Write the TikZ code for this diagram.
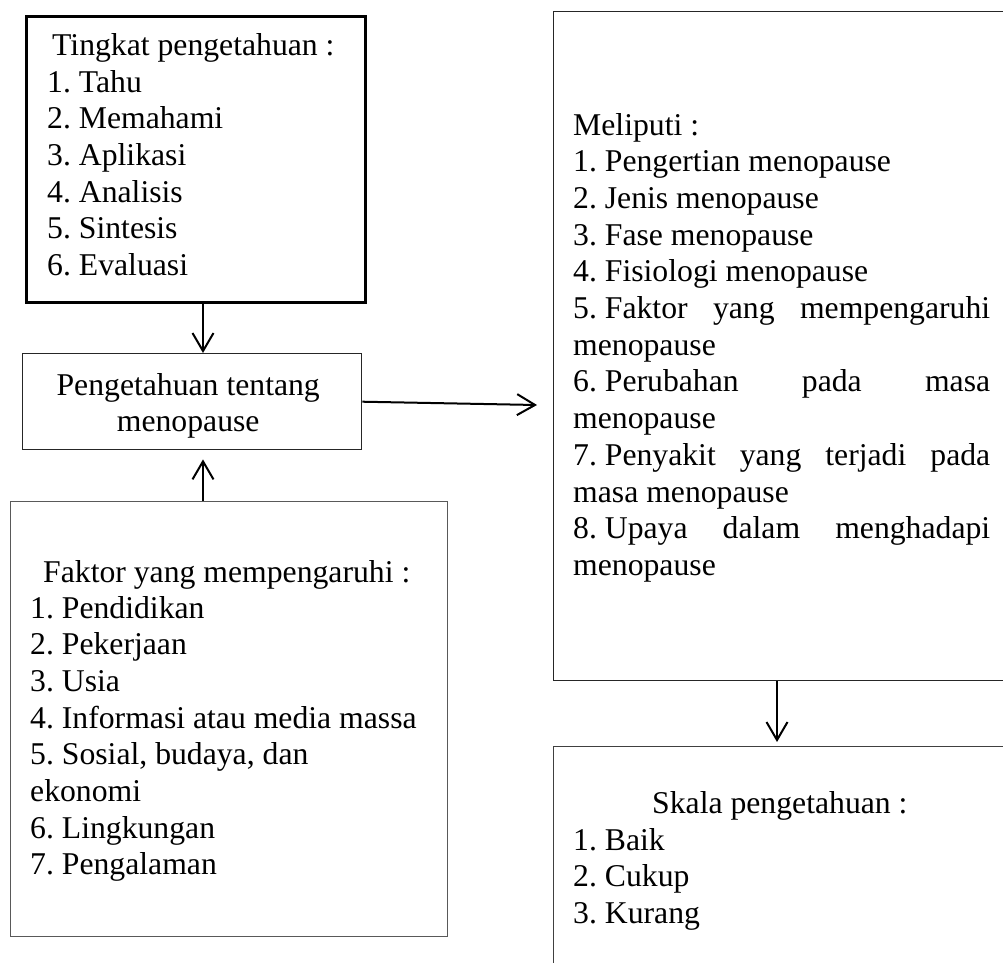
\documentclass[tikz,border=0pt]{standalone}
\usepackage{fontspec}
\setmainfont{Liberation Serif}
\frenchspacing
\usetikzlibrary{arrows.meta}
\tikzset{
  boxthick/.style={draw=black, line width=3pt, inner sep=0pt, anchor=north west},
  boxthin/.style={draw=black!85, line width=1.4pt, inner sep=0pt, anchor=north west},
  txt/.style={inner sep=0pt, anchor=base west, font=\fontsize{31.7}{36.7}\selectfont\frenchspacing},
  arr/.style={line width=2pt, -{Straight Barb[length=18pt, width=21pt, line width=2pt]}}
}
\begin{document}
\begin{tikzpicture}[x=1pt, y=-1pt]
\useasboundingbox (0,0) rectangle (1003,962);
\clip (0,0) rectangle (1003,962);
\fill[white] (0,0) rectangle (1003,962);
% boxes
\node[boxthick, minimum width=339pt, minimum height=286pt] (b1) at (25,15) {};
\node[boxthin, minimum width=339pt, minimum height=96pt] (b2) at (22,353) {};
\node[boxthin, draw=black!65, minimum width=437pt, minimum height=435pt] (b3) at (10,501) {};
\node[boxthin, minimum width=470pt, minimum height=669pt] (b4) at (553,11) {};
\node[boxthin, draw=black!75, minimum width=470pt, minimum height=240pt] (b5) at (553,746) {};
% texts
\node[txt] (t1h) at (52,55) {Tingkat pengetahuan :};
\node[txt] (t1) at (47,92) {\parbox[t]{300pt}{1. Tahu\\2. Memahami\\3. Aplikasi\\4. Analisis\\5. Sintesis\\6. Evaluasi}};
\node[txt] (t2) at (18,395) {\parbox[t]{340pt}{\centering Pengetahuan tentang\\menopause\par}};
\node[txt] (t3h) at (43,582) {Faktor yang mempengaruhi :};
\node[txt] (t3) at (30,618) {\parbox[t]{410pt}{1. Pendidikan\\2. Pekerjaan\\3. Usia\\4. Informasi atau media massa\\5. Sosial, budaya, dan\\ekonomi\\6. Lingkungan\\7. Pengalaman}};
\node[txt] (t4) at (573,135) {\parbox[t]{417pt}{Meliputi :\\1. Pengertian menopause\\2. Jenis menopause\\3. Fase menopause\\4. Fisiologi menopause\\
\hbox to 417pt{5. Faktor\hfill yang\hfill mempengaruhi}\\menopause\\
\hbox to 417pt{6. Perubahan\hfill pada\hfill masa}\\menopause\\
\hbox to 417pt{7. Penyakit\hfill yang\hfill terjadi\hfill pada}\\masa menopause\\
\hbox to 417pt{8. Upaya\hfill dalam\hfill menghadapi}\\menopause}};
\node[txt] (t5h) at (652,813) {Skala pengetahuan :};
\node[txt] (t5) at (573,850) {\parbox[t]{400pt}{1. Baik\\2. Cukup\\3. Kurang}};
% connectors
\coordinate (ax) at (203,0);
\coordinate (bx) at (777,0);
\coordinate (hend) at (537,405);
\draw[arr] (b1.south -| ax) -- (b2.north -| ax);
\draw[arr, shorten >=9pt] (b3.north -| ax) -- (b2.south -| ax);
\draw[arr] (b2.east) -- (hend);
\draw[arr, shorten >=4pt] (b4.south -| bx) -- (b5.north -| bx);
\end{tikzpicture}
\end{document}
